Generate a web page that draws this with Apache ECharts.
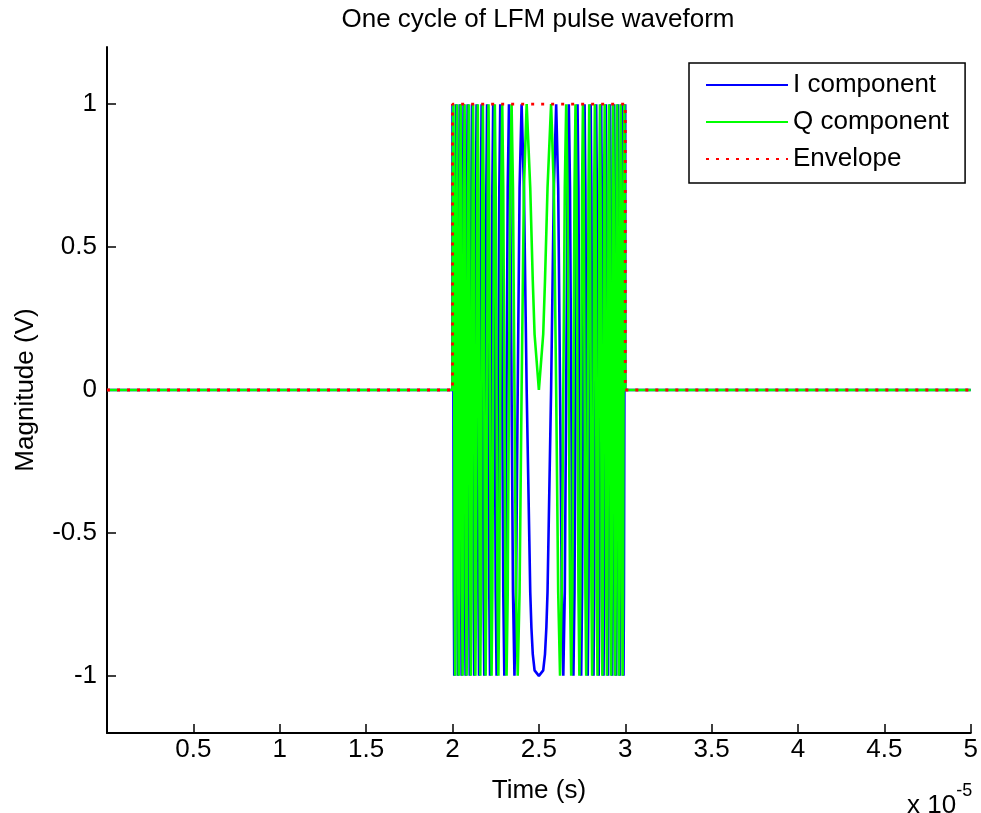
<!DOCTYPE html>
<html>
<head>
<meta charset="utf-8">
<script src="https://cdn.jsdelivr.net/npm/echarts@6/dist/echarts.min.js"></script>
<style>
html,body{margin:0;padding:0;background:#fff;}
#chart{width:981px;height:813px;}
</style>
</head>
<body>
<div id="chart"></div>
<script>
// ---- data (time in microseconds; axis shows units of 1e-5 s) ----
const chartTitle = 'One cycle of LFM pulse waveform';
const xAxisTitle = 'Time (s)';
const yAxisTitle = 'Magnitude (V)';
const seriesNames = ['I component', 'Q component', 'Envelope'];

const xTickValues = [5, 10, 15, 20, 25, 30, 35, 40, 45, 50];
const yTickValues = [-1, -0.5, 0, 0.5, 1];

// idle (zero) stretches before and after the pulse
const idleBeforeUs = [0, 20];
const idleAfterUs = [30, 50];

// turning / quarter points of the chirp inside the pulse (20 us .. 30 us)
const pulseTimeUs = [
  20.000, 20.025, 20.050, 20.076, 20.101, 20.127, 20.152, 20.178,
  20.204, 20.230, 20.257, 20.283, 20.310, 20.336, 20.363, 20.390,
  20.417, 20.445, 20.472, 20.500, 20.528, 20.556, 20.584, 20.613,
  20.641, 20.670, 20.699, 20.728, 20.757, 20.787, 20.817, 20.847,
  20.877, 20.907, 20.938, 20.969, 21.000, 21.031, 21.063, 21.095,
  21.127, 21.159, 21.192, 21.225, 21.258, 21.292, 21.326, 21.360,
  21.394, 21.429, 21.464, 21.500, 21.536, 21.572, 21.609, 21.646,
  21.683, 21.721, 21.760, 21.798, 21.838, 21.878, 21.918, 21.959,
  22.000, 22.042, 22.085, 22.128, 22.172, 22.216, 22.261, 22.307,
  22.354, 22.402, 22.450, 22.500, 22.551, 22.602, 22.655, 22.709,
  22.764, 22.821, 22.879, 22.938, 23.000, 23.064, 23.129, 23.197,
  23.268, 23.342, 23.419, 23.500, 23.586, 23.677, 23.775, 23.882,
  24.000, 24.134, 24.293, 24.500,
  24.567, 24.646, 24.750, 25.000, 25.250, 25.354, 25.433,
  25.500, 25.707, 25.866, 26.000, 26.118, 26.225, 26.323, 26.414,
  26.500, 26.581, 26.658, 26.732, 26.803, 26.871, 26.936, 27.000,
  27.062, 27.121, 27.179, 27.236, 27.291, 27.345, 27.398, 27.449,
  27.500, 27.550, 27.598, 27.646, 27.693, 27.739, 27.784, 27.828,
  27.872, 27.915, 27.958, 28.000, 28.041, 28.082, 28.122, 28.162,
  28.202, 28.240, 28.279, 28.317, 28.354, 28.391, 28.428, 28.464,
  28.500, 28.536, 28.571, 28.606, 28.640, 28.674, 28.708, 28.742,
  28.775, 28.808, 28.841, 28.873, 28.905, 28.937, 28.969, 29.000,
  29.031, 29.062, 29.093, 29.123, 29.153, 29.183, 29.213, 29.243,
  29.272, 29.301, 29.330, 29.359, 29.387, 29.416, 29.444, 29.472,
  29.500, 29.528, 29.555, 29.583, 29.610, 29.637, 29.664, 29.690,
  29.717, 29.743, 29.770, 29.796, 29.822, 29.848, 29.873, 29.899,
  29.924, 29.950, 29.975, 30.000
];

const iPulse = [
  1, 0.707, 0, -0.707, -1, -0.707, 0, 0.707,
  1, 0.707, 0, -0.707, -1, -0.707, 0, 0.707,
  1, 0.707, 0, -0.707, -1, -0.707, 0, 0.707,
  1, 0.707, 0, -0.707, -1, -0.707, 0, 0.707,
  1, 0.707, 0, -0.707, -1, -0.707, 0, 0.707,
  1, 0.707, 0, -0.707, -1, -0.707, 0, 0.707,
  1, 0.707, 0, -0.707, -1, -0.707, 0, 0.707,
  1, 0.707, 0, -0.707, -1, -0.707, 0, 0.707,
  1, 0.707, 0, -0.707, -1, -0.707, 0, 0.707,
  1, 0.707, 0, -0.707, -1, -0.707, 0, 0.707,
  1, 0.707, 0, -0.707, -1, -0.707, 0, 0.707,
  1, 0.707, 0, -0.707, -1, -0.707, 0, 0.707,
  1, 0.707, 0, -0.707,
  -0.831, -0.924, -0.981, -1, -0.981, -0.924, -0.831,
  -0.707, 0, 0.707, 1, 0.707, 0, -0.707, -1,
  -0.707, 0, 0.707, 1, 0.707, 0, -0.707, -1,
  -0.707, 0, 0.707, 1, 0.707, 0, -0.707, -1,
  -0.707, 0, 0.707, 1, 0.707, 0, -0.707, -1,
  -0.707, 0, 0.707, 1, 0.707, 0, -0.707, -1,
  -0.707, 0, 0.707, 1, 0.707, 0, -0.707, -1,
  -0.707, 0, 0.707, 1, 0.707, 0, -0.707, -1,
  -0.707, 0, 0.707, 1, 0.707, 0, -0.707, -1,
  -0.707, 0, 0.707, 1, 0.707, 0, -0.707, -1,
  -0.707, 0, 0.707, 1, 0.707, 0, -0.707, -1,
  -0.707, 0, 0.707, 1, 0.707, 0, -0.707, -1,
  -0.707, 0, 0.707, 1, 0.707, 0, -0.707, -1,
  -0.707, 0, 0.707, 1
];

const qPulse = [
  0, 0.707, 1, 0.707, 0, -0.707, -1, -0.707,
  0, 0.707, 1, 0.707, 0, -0.707, -1, -0.707,
  0, 0.707, 1, 0.707, 0, -0.707, -1, -0.707,
  0, 0.707, 1, 0.707, 0, -0.707, -1, -0.707,
  0, 0.707, 1, 0.707, 0, -0.707, -1, -0.707,
  0, 0.707, 1, 0.707, 0, -0.707, -1, -0.707,
  0, 0.707, 1, 0.707, 0, -0.707, -1, -0.707,
  0, 0.707, 1, 0.707, 0, -0.707, -1, -0.707,
  0, 0.707, 1, 0.707, 0, -0.707, -1, -0.707,
  0, 0.707, 1, 0.707, 0, -0.707, -1, -0.707,
  0, 0.707, 1, 0.707, 0, -0.707, -1, -0.707,
  0, 0.707, 1, 0.707, 0, -0.707, -1, -0.707,
  0, 0.707, 1, 0.707,
  0.556, 0.383, 0.195, 0, 0.195, 0.383, 0.556,
  0.707, 1, 0.707, 0, -0.707, -1, -0.707, 0,
  0.707, 1, 0.707, 0, -0.707, -1, -0.707, 0,
  0.707, 1, 0.707, 0, -0.707, -1, -0.707, 0,
  0.707, 1, 0.707, 0, -0.707, -1, -0.707, 0,
  0.707, 1, 0.707, 0, -0.707, -1, -0.707, 0,
  0.707, 1, 0.707, 0, -0.707, -1, -0.707, 0,
  0.707, 1, 0.707, 0, -0.707, -1, -0.707, 0,
  0.707, 1, 0.707, 0, -0.707, -1, -0.707, 0,
  0.707, 1, 0.707, 0, -0.707, -1, -0.707, 0,
  0.707, 1, 0.707, 0, -0.707, -1, -0.707, 0,
  0.707, 1, 0.707, 0, -0.707, -1, -0.707, 0,
  0.707, 1, 0.707, 0, -0.707, -1, -0.707, 0,
  0.707, 1, 0.707, 0
];

const envelopeTimeUs = [0, 20, 20, 30, 30, 50];
const envelopeValue = [0, 0, 1, 1, 0, 0];

// ---- build series data ----
function withIdle(times, values) {
  const out = [];
  idleBeforeUs.forEach(t => out.push([t, 0]));
  times.forEach((t, i) => out.push([t, values[i]]));
  idleAfterUs.forEach(t => out.push([t, 0]));
  return out;
}
const iData = withIdle(pulseTimeUs, iPulse);
const qData = withIdle(pulseTimeUs, qPulse);
const envData = envelopeTimeUs.map((t, i) => [t, envelopeValue[i]]);

const FONT = '"Liberation Sans", Arial, Helvetica, sans-serif';
const TXT = '#000000';

const chart = echarts.init(document.getElementById('chart'), null, {renderer: 'canvas'});
chart.setOption({
  animation: false,
  backgroundColor: '#ffffff',
  grid: {left: 107, right: 9, top: 47, bottom: 80, containLabel: false},
  xAxis: {
    type: 'value', min: 0, max: 50, interval: 5,
    name: xAxisTitle, nameLocation: 'middle', nameGap: 45,
    nameTextStyle: {fontFamily: FONT, fontSize: 26, color: TXT},
    axisLine: {show: true, onZero: false, lineStyle: {color: '#000', width: 2}},
    axisTick: {show: true, inside: true, length: 9, customValues: xTickValues, lineStyle: {color: '#000', width: 1.5}},
    axisLabel: {show: true, margin: 4, customValues: xTickValues, fontFamily: FONT, fontSize: 26, color: TXT,
      formatter: v => String(Math.round(v) / 10)},
    splitLine: {show: false}
  },
  yAxis: {
    type: 'value', min: -1.2, max: 1.2,
    name: yAxisTitle, nameLocation: 'middle', nameGap: 68, nameRotate: 90,
    nameTextStyle: {fontFamily: FONT, fontSize: 26, color: TXT},
    axisLine: {show: true, onZero: false, lineStyle: {color: '#000', width: 2}},
    axisTick: {show: true, inside: true, length: 9, customValues: yTickValues, lineStyle: {color: '#000', width: 1.5}},
    axisLabel: {show: true, margin: 10, customValues: yTickValues, fontFamily: FONT, fontSize: 26, color: TXT,
      formatter: v => String(v)},
    splitLine: {show: false}
  },
  legend: {
    show: true, orient: 'vertical', left: 689, top: 63,
    padding: [8, 16, 10, 16],
    itemWidth: 82, itemHeight: 14, itemGap: 9,
    itemStyle: {opacity: 0},
    borderColor: '#000', borderWidth: 1.5, backgroundColor: '#fff',
    textStyle: {fontFamily: FONT, fontSize: 26, color: TXT, lineHeight: 28},
    data: seriesNames
  },
  graphic: [
    {type: 'text', x: 538, y: 20, z: 10,
      style: {text: chartTitle, font: '26px ' + FONT, fill: TXT, textAlign: 'center', textVerticalAlign: 'middle'}},
    {type: 'text', x: 907, y: 782, z: 10,
      style: {text: '{a|x 10}{b|-5}', fill: TXT,
        rich: {a: {fontFamily: FONT, fontSize: 26, color: TXT, padding: [11, 0, 0, 0]},
               b: {fontFamily: FONT, fontSize: 18, color: TXT, verticalAlign: 'top'}}}}
  ],
  series: [
    {name: seriesNames[0], type: 'line', data: iData, symbol: 'none', showSymbol: false,
      lineStyle: {color: '#0000ff', width: 2.6}, itemStyle: {color: '#0000ff'}, z: 2, silent: true},
    {name: seriesNames[1], type: 'line', data: qData, symbol: 'none', showSymbol: false,
      lineStyle: {color: '#00ff00', width: 2.6}, itemStyle: {color: '#00ff00'}, z: 3, silent: true},
    {name: seriesNames[2], type: 'line', data: envData, symbol: 'none', showSymbol: false,
      lineStyle: {color: '#ff0000', width: 2.8, type: [3, 7]}, itemStyle: {color: '#ff0000'}, z: 4, silent: true}
  ]
});
</script>
</body>
</html>
